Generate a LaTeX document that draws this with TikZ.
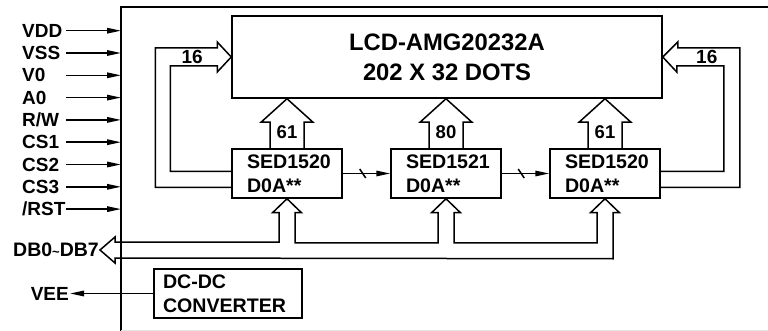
\documentclass[tikz,border=0pt]{standalone}
\usepackage{fontspec}
\setmainfont{Liberation Sans}
\usetikzlibrary{arrows.meta,calc}
\tikzset{
  >={Triangle[length=14pt,width=5.5pt]},
}
\tikzstyle{wire}=[line width=1.5pt]
\tikzstyle{sig}=[wire,->]
\tikzstyle{bus}=[line width=1.5pt,line join=miter]
\tikzstyle{every node}=[font=\bfseries\fontsize{19}{22}\selectfont]
\tikzstyle{chip}=[draw,line width=1.5pt,minimum width=110pt,minimum height=49pt,
  text width=80pt,inner xsep=15pt,inner ysep=0pt,align=left,
  font=\bfseries\fontsize{19.6}{24}\selectfont]
\tikzstyle{pin}=[anchor=west,inner sep=0pt]

\begin{document}
\begin{tikzpicture}[x=1pt,y=-1pt]
    \useasboundingbox (0,0) rectangle (768,331);
    % module frame
    \coordinate (frameNW) at (121,7);
    \draw[wire] (768,7) -- (frameNW) -- (121,331);
    \draw[gray!20,line width=1pt] (121,330) -- (768,330);
    % blocks
    \node[draw,line width=1.5pt,minimum width=430pt,minimum height=82pt,align=center,
      font=\bfseries\fontsize{23.8}{30}\selectfont] (lcd) at (447,57)
      {LCD-AMG20232A\\202 X 32 DOTS};
    \node[chip] (c1) at (287,173.5) {SED1520\\D0A**};
    \node[chip] (c2) at (446,173.5) {SED1521\\D0A**};
    \node[chip] (c3) at (605,173.5) {SED1520\\D0A**};
    \node[chip,minimum width=148pt,text width=130pt,inner xsep=9pt] (dcdc) at (228,293.5)
      {DC-DC\\CONVERTER};
    % segment drivers to LCD
    \foreach \c/\n in {c1/61,c2/80,c3/61}{
      \draw[bus] ($(\c.north)+(-17,0)$) -- ++(0,-26) -- ++(-9,0) -- (\c.north |- lcd.south)
        -- ($(\c.north)+(26,-26)$) -- ++(-9,0) -- ++(0,26);
      \node[font=\bfseries\fontsize{18.5}{20}\selectfont] (w\c) at ($(\c.north)+(0,-16)$) {\n};
    }
    % common drivers
    \draw[bus] ($(c1.west)+(0,14)$) -| ($(lcd.west)+(-76,-9)$) -- ++(62,0) -- ++(0,-6)
      -- (lcd.west) -- ++(-14,15) -- ++(0,-6) -| ($(c1.west)+(-61,-2)$) -- ++(61,0);
    \node (n16l) at ($(lcd.west)+(-39,0)$) {16};
    \draw[bus] ($(c3.east)+(0,14)$) -| ($(lcd.east)+(77,-9)$) -- ++(-62,0) -- ++(0,-6)
      -- (lcd.east) -- ++(14,15) -- ++(0,-6) -| ($(c3.east)+(63,-2)$) -- ++(-63,0);
    \node (n16r) at ($(lcd.east)+(44,0)$) {16};
    % chip to chip
    \draw[sig] (c1.east) -- (c2.west) coordinate[pos=.42] (k1);
    \draw[wire] ($(k1)+(-3,-4.5)$) -- ($(k1)+(3,4.5)$);
    \draw[sig] (c2.east) -- (c3.west) coordinate[pos=.41] (k2);
    \draw[wire] ($(k2)+(-3,-4.5)$) -- ($(k2)+(3,4.5)$);
    % inputs
    \foreach \s [count=\i] in {VDD,VSS,V0,A0,R/W,CS1,CS2,CS3,/RST}{
      \node[pin] (in\i) at (22,8.4+22.3*\i) {\s};
      \coordinate (s\i) at (66,8.4+22.3*\i);
      \draw[sig] (s\i) -- (s\i -| frameNW);
    }
    % data bus
    \node[anchor=east,inner xsep=1pt,font=\bfseries\fontsize{19.5}{22}\selectfont] (db) at (100,250)
      {DB0{\fontsize{13}{13}\selectfont\raisebox{0.5pt}{\textasciitilde}}DB7};
    \draw[bus] (db.east) -- ++(15,-13) -- ++(0,5)
      -| ($(c1.south)+(-8,14)$) -- ++(-6.5,0) -- (c1.south) -- ++(14.5,14) -- ++(-6.5,0) -- ++(0,30)
      -| ($(c2.south)+(-8,14)$) -- ++(-6.5,0) -- (c2.south) -- ++(14.5,14) -- ++(-6.5,0) -- ++(0,30)
      -| ($(c3.south)+(-8,14)$) -- ++(-6.5,0) -- (c3.south) -- ++(14.5,14) -- ++(-6.5,0) -- ++(0,46)
      -- ($(db.east)+(15,8)$) -- ++(0,5) -- cycle;
    % supply
    \node[anchor=east,inner xsep=1pt] (vee) at (70,293.5) {VEE};
    \draw[sig] (dcdc.west) -- (vee.east);
  \end{tikzpicture}
\end{document}
